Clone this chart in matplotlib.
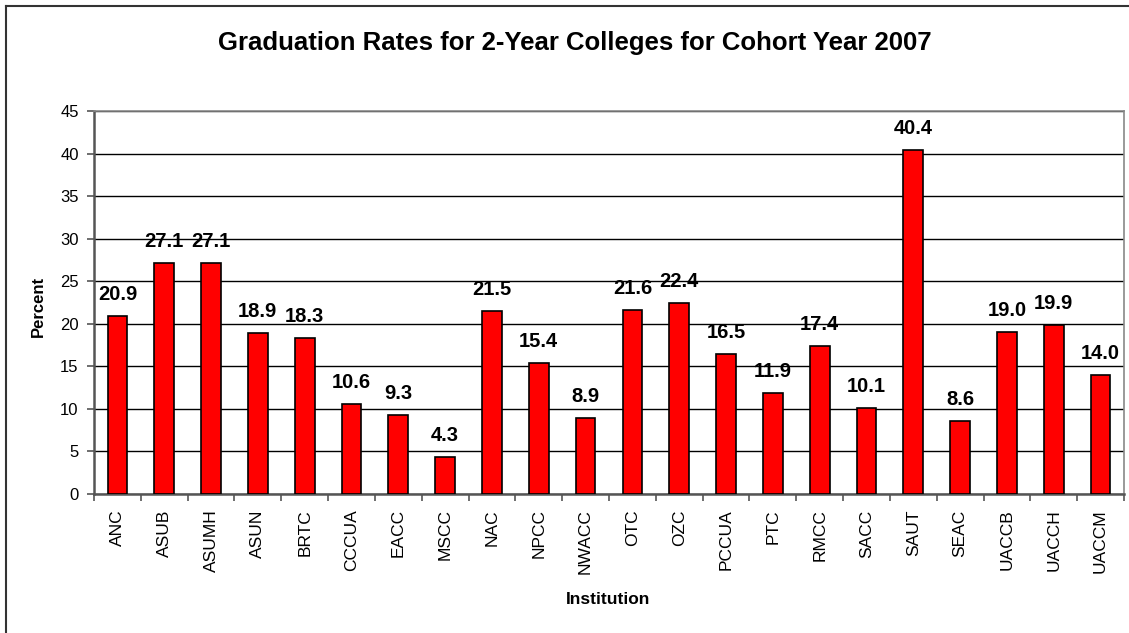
import matplotlib
matplotlib.use("Agg")
import matplotlib.pyplot as plt

institutions = ["ANC", "ASUB", "ASUMH", "ASUN", "BRTC", "CCCUA", "EACC", "MSCC",
                "NAC", "NPCC", "NWACC", "OTC", "OZC", "PCCUA", "PTC", "RMCC",
                "SACC", "SAUT", "SEAC", "UACCB", "UACCH", "UACCM"]
rates = [20.9, 27.1, 27.1, 18.9, 18.3, 10.6, 9.3, 4.3, 21.5, 15.4, 8.9, 21.6,
         22.4, 16.5, 11.9, 17.4, 10.1, 40.4, 8.6, 19.0, 19.9, 14.0]
yticks = [0, 5, 10, 15, 20, 25, 30, 35, 40, 45]

plt.rcParams['font.family'] = ['Liberation Sans', 'DejaVu Sans']

W, H = 1129, 633
fig = plt.figure(figsize=(W / 100, H / 100), dpi=100)

# outer chart frame (only top and left visible)
fig.add_artist(plt.Line2D([6 / W, 6 / W], [0, 1 - 6 / H], transform=fig.transFigure,
                          color="#333333", lw=1.5))
fig.add_artist(plt.Line2D([6 / W, 1], [1 - 6 / H, 1 - 6 / H], transform=fig.transFigure,
                          color="#333333", lw=1.5))

left, right, top, bottom = 94, 1124, 111, 494
ax = fig.add_axes([left / W, 1 - bottom / H, (right - left) / W, (bottom - top) / H])

x = list(range(len(institutions)))
ax.bar(x, rates, width=0.42, color="#FF0000", edgecolor="black", linewidth=1.2, zorder=3)
for xi, v in zip(x, rates):
    ax.annotate(f"{v:.1f}", (xi, v), xytext=(0, 11.5), textcoords="offset points",
                ha="center", va="baseline", fontsize=14.5, fontweight="bold", zorder=4)

ax.set_xlim(-0.5, len(institutions) - 0.5)
ax.set_ylim(0, 45)
ax.set_yticks(yticks)
ax.set_yticklabels([str(t) for t in yticks], fontsize=12)
ax.yaxis.grid(True, color="black", lw=1.0, zorder=0)
ax.set_axisbelow(True)

ax.set_xticks(x)
ax.set_xticklabels(institutions, rotation=90, fontsize=12.5)
ax.tick_params(axis="x", length=0, pad=11)
# category boundary ticks
ax.set_xticks([i - 0.5 for i in range(len(institutions) + 1)], minor=True)
ax.tick_params(axis="x", which="minor", length=5, width=1.2, color="#555555")
ax.tick_params(axis="y", length=5, width=1.2, color="#555555", pad=6)

for s in ["left", "bottom"]:
    ax.spines[s].set_color("#555555")
    ax.spines[s].set_linewidth(1.8)
for s in ["top", "right"]:
    ax.spines[s].set_color("#888888")
    ax.spines[s].set_linewidth(1.2)

fig.text(38 / W, 1 - 306 / H, "Percent", rotation=90, ha="center", va="center",
         fontsize=12, fontweight="bold")
fig.text(608 / W, 1 - 600 / H, "Institution", ha="center", va="center",
         fontsize=12.5, fontweight="bold")

fig.text(575 / W, 1 - 43 / H, "Graduation Rates for 2-Year Colleges for Cohort Year 2007",
         ha="center", va="center", fontsize=18.5, fontweight="bold")

fig.savefig("out.png", dpi=100)
